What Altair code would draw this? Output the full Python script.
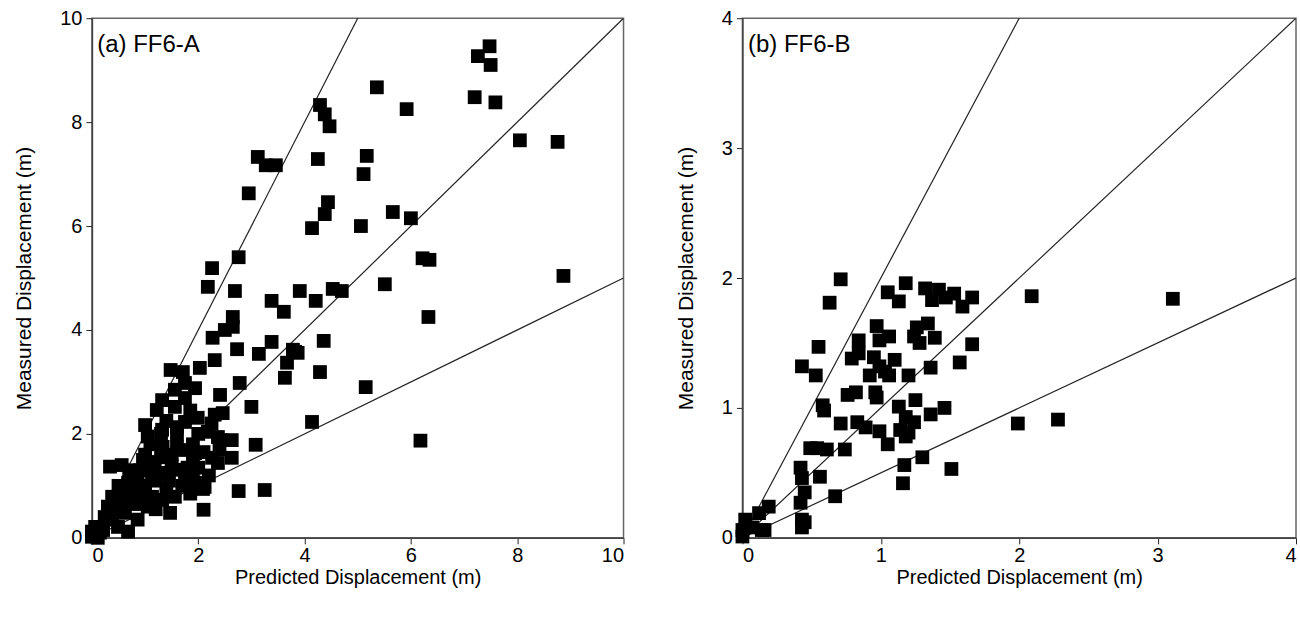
import altair as alt
import pandas as pd

# ---- Panel (a) FF6-A : predicted vs measured displacement (m)
a_pred = [7.48, 7.26, 7.5, 7.2, 7.59, 5.36, 5.92, 4.29, 4.38, 4.47, 8.05, 8.76, 8.87, 5.17, 5.11,
          4.25, 3.12, 3.27, 3.46, 2.95, 4.44, 4.38, 4.14, 5.06, 5.66, 6.0, 2.76, 2.26, 2.18, 2.69,
          3.38, 3.61, 3.91, 4.21, 4.53, 4.7, 6.22, 6.35, 5.51, 6.33, 2.65, 2.65, 2.5, 2.27, 3.38,
          2.73, 3.14, 3.82, 4.36, 4.29, 5.15, 4.14, 3.78, 3.87, 3.67, 3.63, 2.78, 2.41, 3.0, 3.08,
          2.76, 3.25, 2.1, 2.31, 2.09, 6.18,
          1.48, 1.71, 2.03, 1.75, 1.94, 1.56, 1.32, 1.22, 1.56, 1.75, 1.0, 1.32, 1.6, 1.75, 1.99,
          2.31, 2.46, 2.18, 2.37, 2.63, 2.44, 1.33, 1.6, 1.75, 1.94, 2.26, 2.37, 2.63, 0.34, 0.56,
          0.96, 1.18, 0.86, 1.13, 1.37, 1.56, 1.75, 1.94, 2.12, 0.68, 0.81, 0.38, 0.49, 0.62, 1.13,
          1.32, 1.56, 1.47, 0.43, 0.62, 0.86, 0.24, 0.38, 0.68, 0.49, 0.06, 0.0, 0.15, 0.0, 0.11,
          0.21, 1.0, 1.2, 1.4, 1.7, 1.8, 1.5, 1.1, 1.3, 0.9, 1.6, 2.0, 1.9, 1.05, 0.8, 1.2, 2.0,
          2.2, 1.85, 0.95,
          0.7, 1.5, 1.3, 1.9, 2.1, 1.05, 1.4, 1.85, 0.5, 0.75, 1.9, 2.4, 0.3, 1.45, 1.0, 2.25]
a_meas = [9.46, 9.27, 9.1, 8.48, 8.38, 8.67, 8.25, 8.33, 8.15, 7.92, 7.65, 7.62, 5.04, 7.35, 7.0,
          7.29, 7.33, 7.17, 7.17, 6.63, 6.46, 6.23, 5.96, 6.0, 6.27, 6.15, 5.4, 5.19, 4.83, 4.75,
          4.56, 4.35, 4.75, 4.56, 4.79, 4.75, 5.38, 5.35, 4.88, 4.25, 4.25, 4.06, 4.0, 3.85, 3.77,
          3.63, 3.54, 3.58, 3.79, 3.19, 2.9, 2.23, 3.62, 3.56, 3.37, 3.08, 2.98, 2.75, 2.52, 1.79,
          0.9, 0.92, 0.54, 3.42, 0.94, 1.87,
          3.23, 3.19, 3.27, 2.98, 2.88, 2.85, 2.65, 2.46, 2.52, 2.69, 2.17, 2.08, 2.13, 2.23, 2.31,
          2.37, 2.4, 2.04, 1.94, 1.88, 1.88, 1.75, 1.75, 1.69, 1.63, 1.54, 1.44, 1.54, 1.37, 1.4,
          1.5, 1.46, 1.17, 1.25, 1.25, 1.31, 1.12, 1.06, 0.98, 1.06, 0.98, 0.79, 0.79, 0.73, 0.79,
          0.73, 0.79, 0.48, 0.54, 0.48, 0.35, 0.4, 0.35, 0.12, 0.21, 0.21, 0.12, 0.1, 0.02, 0.0,
          0.15, 1.0, 1.1, 0.95, 1.0, 1.35, 1.6, 1.8, 2.0, 1.3, 2.0, 2.0, 1.8, 0.6, 0.65, 0.55, 1.35,
          1.2, 0.85, 0.85,
          1.3, 1.4, 1.55, 1.45, 1.65, 1.95, 2.25, 2.45, 1.0, 0.85, 1.2, 1.7, 0.6, 1.1, 1.6, 2.2]

# ---- Panel (b) FF6-B
b_pred = [0.71, 0.63, 0.55, 0.43, 0.53, 0.58, 0.59, 0.71, 0.74, 0.54, 0.61, 0.42, 0.56, 0.43, 0.45,
          0.42, 0.67, 0.43, 0.43, 0.19, 0.12, 0.16, 0.02, 0.0, 0.0, 0.07, 1.05, 1.13, 1.18, 1.32,
          1.42, 1.37, 1.47, 1.53, 1.59, 1.66, 0.97, 1.06, 0.99, 0.84, 0.84, 0.79, 1.26, 1.34, 1.24,
          1.28, 1.39, 1.66, 1.57, 1.36, 0.95, 0.99, 0.92, 1.03, 1.1, 1.06, 1.2, 0.76, 0.82, 0.96,
          0.97, 1.13, 1.25, 1.18, 1.24, 1.36, 1.46, 1.14, 1.2, 1.18, 0.83, 0.89, 0.99, 1.05, 1.17,
          1.3, 1.51, 1.16, 0.49, 2.09, 3.11, 1.99, 2.28, 0.45, 0.14]
b_meas = [1.99, 1.81, 1.47, 1.32, 1.25, 1.02, 0.98, 0.88, 0.68, 0.69, 0.68, 0.54, 0.47, 0.46, 0.35,
          0.27, 0.32, 0.14, 0.08, 0.24, 0.19, 0.06, 0.14, 0.06, 0.01, 0.08, 1.89, 1.82, 1.96, 1.92,
          1.91, 1.83, 1.85, 1.88, 1.78, 1.85, 1.63, 1.55, 1.52, 1.52, 1.42, 1.38, 1.62, 1.65, 1.55,
          1.5, 1.54, 1.49, 1.35, 1.31, 1.39, 1.32, 1.25, 1.28, 1.37, 1.25, 1.25, 1.1, 1.12, 1.12,
          1.08, 1.01, 1.06, 0.93, 0.89, 0.95, 1.0, 0.83, 0.81, 0.78, 0.89, 0.85, 0.82, 0.72, 0.56,
          0.62, 0.53, 0.42, 0.69, 1.86, 1.84, 0.88, 0.91, 0.12, 0.06]

# reference lines: measured = slope * predicted
slopes = [2.0, 1.0, 0.5]

FONT = "Liberation Sans, Arial"


def panel(pred, meas, vmax, label, ticks):
    pts = pd.DataFrame({"p": pred, "m": meas})
    lines = pd.DataFrame(
        [{"s": s, "p": 0.0, "m": 0.0} for s in slopes]
        + [{"s": s, "p": vmax, "m": s * vmax} for s in slopes]
    )
    xsc = alt.Scale(domain=[0, vmax], nice=False, zero=True)
    ysc = alt.Scale(domain=[0, vmax], nice=False, zero=True)
    xax = alt.Axis(values=ticks, title="Predicted Displacement (m)", format="d", grid=False,
                   titleFontSize=20, titlePadding=2, titleFont=FONT, titleFontWeight="normal")
    yax = alt.Axis(values=ticks, title="Measured Displacement (m)", format="d", grid=False,
                   titleFontSize=21, titlePadding=25, titleFont=FONT, titleFontWeight="normal",
                   labelPadding=4)

    base_pts = alt.Chart(pts).mark_square(size=190, color="black", opacity=1).encode(
        x=alt.X("p:Q", scale=xsc, axis=xax),
        y=alt.Y("m:Q", scale=ysc, axis=yax),
    )
    ln = alt.Chart(lines).mark_line(color="#222", strokeWidth=1.2, clip=True).encode(
        x=alt.X("p:Q", scale=xsc),
        y=alt.Y("m:Q", scale=ysc),
        detail="s:N",
    )
    lab = alt.Chart(pd.DataFrame({"p": [0.01 * vmax], "m": [0.948 * vmax], "t": [label]})).mark_text(
        align="left", baseline="middle", fontSize=24, font=FONT, color="black"
    ).encode(x=alt.X("p:Q", scale=xsc), y=alt.Y("m:Q", scale=ysc), text="t:N")
    return alt.layer(ln, base_pts, lab)


pa = panel(a_pred, a_meas, 10, "(a) FF6-A", [0, 2, 4, 6, 8, 10]).properties(width=532, height=520)
pb = panel(b_pred, b_meas, 4, "(b) FF6-B", [0, 1, 2, 3, 4]).properties(width=554, height=520)

chart = alt.hconcat(pa, pb, spacing=49).properties(
    padding={"left": 13, "top": 7, "right": 2, "bottom": 2},
    background="white",
).configure_axis(
    grid=False,
    domainColor="#444",
    domainWidth=1.5,
    tickColor="#222",
    tickSize=6,
    labelFont=FONT,
    labelFontSize=20,
    labelColor="black",
    labelPadding=2,
    titleFontWeight="normal",
    titleColor="black",
).configure_view(
    stroke="#666", strokeWidth=1.5
)

chart.save("out.html", embed_options={"renderer": "svg", "actions": False})
